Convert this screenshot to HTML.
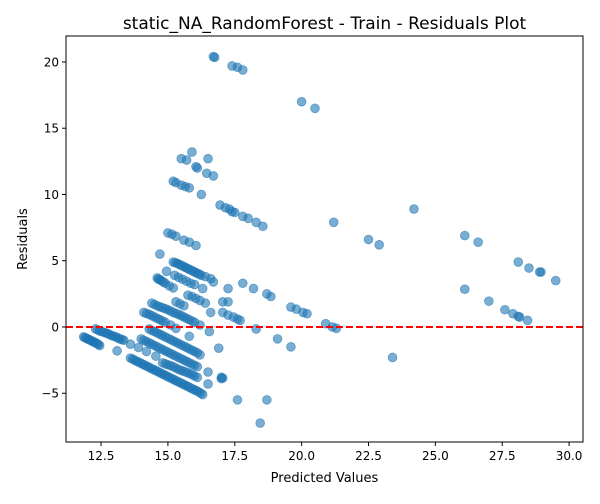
<!DOCTYPE html>
<html><head><meta charset="utf-8"><style>
body{margin:0;background:#fff;font-family:"DejaVu Sans","Liberation Sans",sans-serif}
svg text{font-family:"DejaVu Sans","Liberation Sans",sans-serif;fill:#000}
</style></head><body>
<svg id="chart" width="600" height="500" xmlns="http://www.w3.org/2000/svg">
<rect width="600" height="500" fill="#fff"/>
<text x="324.5" y="29" font-size="17" text-anchor="middle">static_NA_RandomForest - Train - Residuals Plot</text>
<g id="plot"></g>
<rect x="66" y="36" width="517" height="406" fill="none" stroke="#000" stroke-width="1"/>
<text x="324.5" y="482" font-size="13" text-anchor="middle">Predicted Values</text>
<text transform="translate(27,239) rotate(-90)" font-size="13" text-anchor="middle">Residuals</text>
</svg>
<script>
const xTicks=[12.5,15.0,17.5,20.0,22.5,25.0,27.5,30.0];
const xTickLabels=["12.5","15.0","17.5","20.0","22.5","25.0","27.5","30.0"];
const yTicks=[-5,0,5,10,15,20];
const yTickLabels=["−5","0","5","10","15","20"];
const predicted=[
16.7,16.75,17.4,17.6,17.8,20.0,20.5,15.9,15.5,15.7,16.5,16.05,16.1,16.45,16.7,15.2,15.3,15.5,15.65,15.8,16.25,
16.95,17.15,17.3,17.4,17.5,17.8,18.0,18.3,18.55,21.2,24.2,15.0,15.15,15.3,15.6,15.8,16.05,22.5,22.9,26.1,26.6,
14.7,28.1,28.5,28.9,28.95,29.5,14.95,26.1,27.0,17.25,17.8,18.2,18.7,18.85,17.25,17.25,17.45,17.6,17.7,16.6,
19.6,19.8,20.05,20.2,20.9,21.15,21.3,27.6,27.9,28.1,28.15,28.45,18.3,16.9,19.1,19.6,17.0,17.0,17.6,18.7,18.45,23.4,
16.55,16.5,16.5,17.05,15.8,13.1,17.05,17.05,14.65,16.7,16.3,16.4,
11.85,11.95,12.05,12.15,12.25,12.35,12.45,11.9,12.0,12.1,12.2,12.3,12.4,
12.3,12.45,12.6,12.75,12.9,13.05,13.2,13.35,13.6,13.9,14.2,14.55,12.38,12.53,12.68,12.83,12.98,13.13,13.28,
13.6,13.75,13.9,14.05,14.2,14.35,14.5,14.65,14.8,14.95,15.1,15.25,15.4,15.55,15.7,15.85,16.0,16.15,16.3,
13.68,13.83,13.98,14.13,14.28,14.43,14.58,14.73,14.88,15.03,15.18,15.33,15.48,15.63,15.78,15.93,16.08,16.23,
14.0,14.2,14.4,14.6,14.8,15.0,15.2,15.4,15.6,15.8,16.0,16.1,
14.1,14.3,14.5,14.7,14.9,15.1,15.3,15.5,15.7,15.9,
14.3,14.5,14.7,14.9,15.1,15.3,15.5,15.7,15.9,16.1,16.2,
14.4,14.6,14.8,15.0,15.2,15.4,15.6,15.8,16.0,
14.8,15.0,15.2,15.4,15.6,15.8,16.0,16.1,14.9,15.1,15.3,15.5,15.7,15.9,
14.4,14.6,14.8,15.0,15.2,15.4,15.6,15.8,16.0,16.2,14.5,14.7,14.9,15.1,15.3,15.5,15.7,15.9,
14.1,14.3,14.5,14.7,14.9,15.1,15.3,14.2,14.4,14.6,14.8,
15.3,15.45,15.6,15.75,15.9,16.05,16.2,
15.2,15.35,15.5,15.65,15.8,15.95,16.1,16.25,16.4,16.6,15.28,15.43,15.58,15.73,15.88,16.03,16.18,
15.25,15.4,15.55,15.7,15.85,16.0,
14.6,14.75,14.9,15.05,15.2,14.68,14.83];
const residuals=[
20.4,20.35,19.7,19.6,19.4,17.0,16.5,13.2,12.7,12.6,12.7,12.1,12.0,11.6,11.4,11.0,10.9,10.7,10.6,10.5,10.0,
9.2,9.0,8.9,8.7,8.65,8.35,8.2,7.9,7.6,7.9,8.9,7.1,7.0,6.85,6.55,6.4,6.15,6.6,6.2,6.9,6.4,
5.5,4.9,4.45,4.15,4.15,3.5,4.2,2.85,1.95,2.9,3.3,2.9,2.5,2.3,1.9,0.9,0.75,0.6,0.5,1.1,
1.5,1.35,1.1,1.0,0.25,0.0,-0.1,1.3,1.0,0.8,0.75,0.5,-0.15,-1.6,-0.9,-1.5,-3.8,-3.9,-5.5,-5.5,-7.25,-2.3,
-0.35,-3.4,-4.3,-3.85,-0.7,-1.8,1.1,1.9,3.6,3.4,2.9,1.8,
-0.75,-0.85,-0.95,-1.05,-1.15,-1.25,-1.4,-0.8,-0.9,-1.0,-1.1,-1.2,-1.32,
-0.15,-0.3,-0.4,-0.5,-0.65,-0.75,-0.9,-1.0,-1.3,-1.55,-1.85,-2.2,-0.22,-0.35,-0.45,-0.58,-0.7,-0.82,-0.95,
-2.35,-2.5,-2.65,-2.8,-2.95,-3.1,-3.25,-3.4,-3.55,-3.7,-3.85,-4.0,-4.15,-4.3,-4.45,-4.6,-4.75,-4.9,-5.1,
-2.42,-2.58,-2.72,-2.88,-3.02,-3.18,-3.32,-3.48,-3.62,-3.78,-3.92,-4.08,-4.22,-4.38,-4.52,-4.68,-4.82,-5.0,
-0.9,-1.1,-1.3,-1.5,-1.7,-1.9,-2.1,-2.3,-2.5,-2.7,-2.9,-3.0,
-1.0,-1.2,-1.4,-1.6,-1.8,-2.0,-2.2,-2.4,-2.6,-2.8,
-0.15,-0.35,-0.55,-0.75,-0.95,-1.15,-1.35,-1.55,-1.75,-1.95,-2.1,
-0.25,-0.45,-0.65,-0.85,-1.05,-1.25,-1.45,-1.65,-1.85,
-2.7,-2.85,-3.0,-3.2,-3.35,-3.5,-3.7,-3.8,-2.78,-2.92,-3.1,-3.28,-3.42,-3.6,
1.8,1.6,1.45,1.3,1.1,0.95,0.75,0.55,0.35,0.15,1.7,1.52,1.38,1.2,1.02,0.85,0.65,0.45,
1.1,0.95,0.75,0.55,0.35,0.15,-0.1,1.02,0.85,0.65,0.45,
1.9,1.75,1.6,2.4,2.3,2.15,2.0,
4.9,4.8,4.65,4.5,4.35,4.2,4.05,3.9,3.8,3.65,4.85,4.72,4.58,4.42,4.28,4.12,3.98,
3.9,3.75,3.6,3.45,3.3,3.2,
3.7,3.5,3.3,3.1,2.95,3.6,3.4];

const NS="http://www.w3.org/2000/svg";
const L=66,R=583,T=36,B=442;
const xMin=11.19,xMax=30.52,yMin=-8.68,yMax=21.96;
function sx(v){return L+(v-xMin)/(xMax-xMin)*(R-L);}
function sy(v){return B-(v-yMin)/(yMax-yMin)*(B-T);}
const svg=document.getElementById('chart');
const g=document.getElementById('plot');
function mk(tag,attrs,parent){const e=document.createElementNS(NS,tag);for(const k in attrs)e.setAttribute(k,attrs[k]);(parent||svg).appendChild(e);return e;}

for(let i=0;i<predicted.length;i++){
  const c=mk('circle',{cx:sx(predicted[i]),cy:sy(residuals[i]),r:4.4,fill:'#1f77b4','fill-opacity':0.6,stroke:'#1f77b4','stroke-opacity':0.6,'stroke-width':0.8},g);
  
  
}
const zl=mk('line',{x1:L,x2:R,y1:sy(0),y2:sy(0),stroke:'#ff0000','stroke-width':2,'stroke-dasharray':'7,3'},g);



xTicks.forEach((t,i)=>{
  const x=sx(t);
  const tk=mk('line',{x1:x,x2:x,y1:B,y2:B+4,stroke:'#000','stroke-width':1});
  
  
  const lb=mk('text',{x:x,y:B+18,'font-size':12,'text-anchor':'middle'});
  lb.textContent=xTickLabels[i];
  
  
});
yTicks.forEach((t,i)=>{
  const y=sy(t);
  const tk=mk('line',{x1:L-4,x2:L,y1:y,y2:y,stroke:'#000','stroke-width':1});
  
  
  const lb=mk('text',{x:L-7,y:y+4.5,'font-size':12,'text-anchor':'end'});
  lb.textContent=yTickLabels[i];
  
  
});
</script>
</body></html>
